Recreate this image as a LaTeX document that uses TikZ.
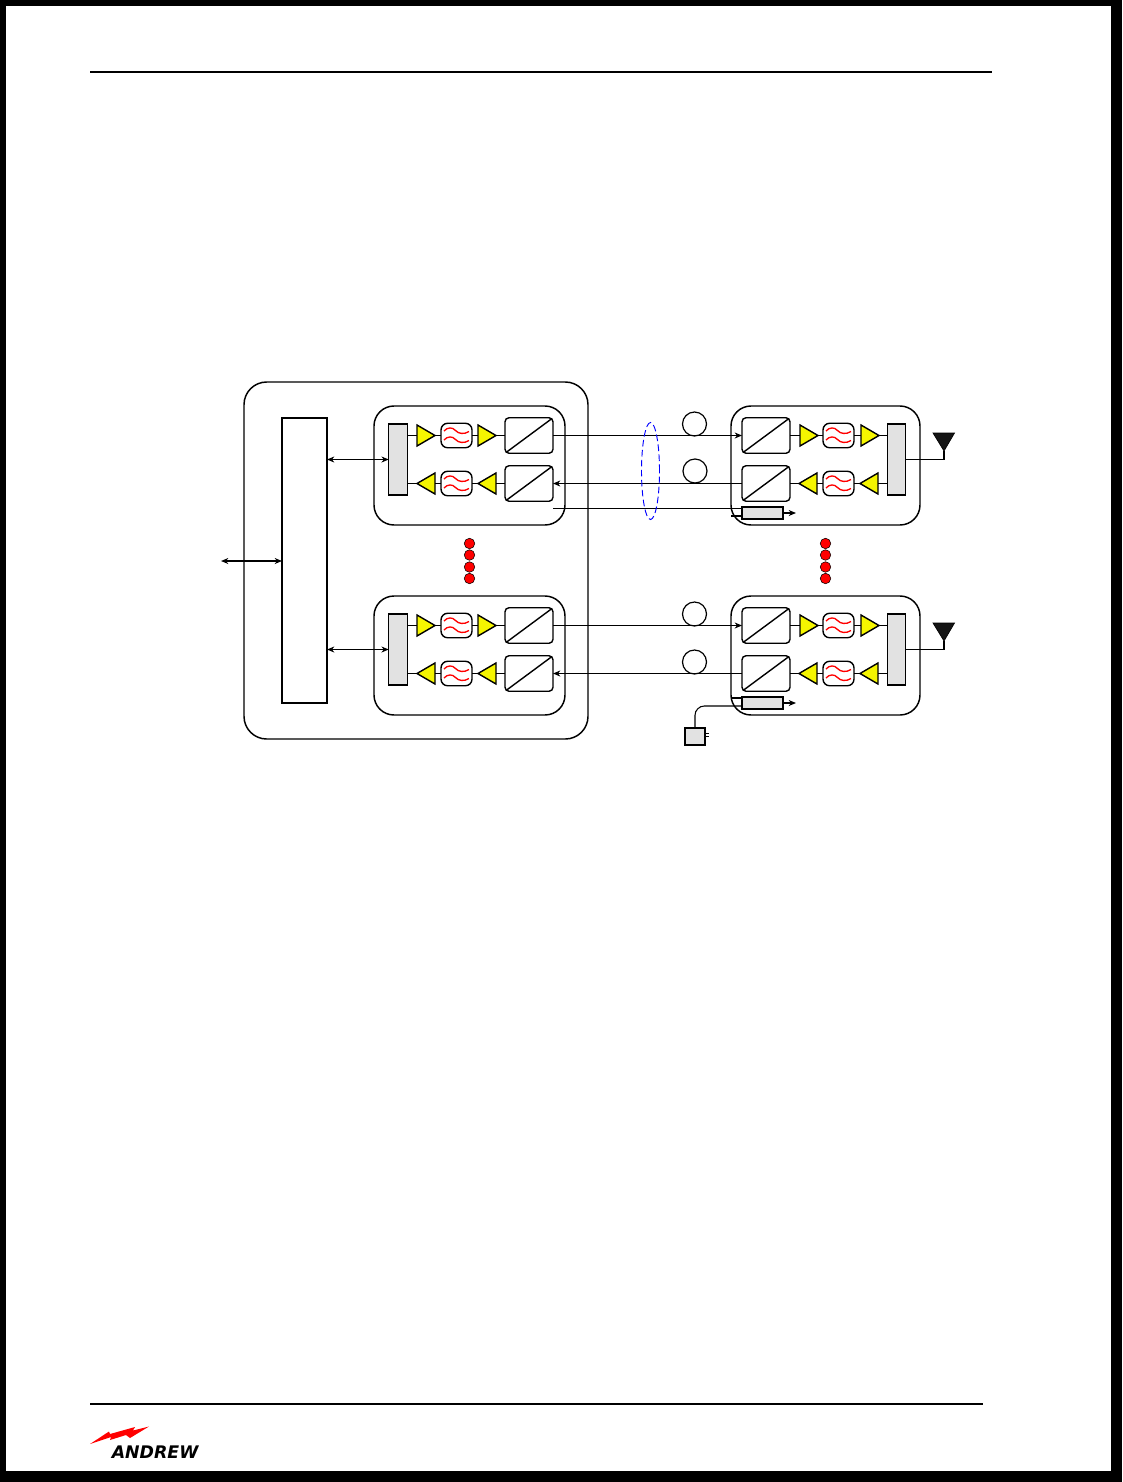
\documentclass[tikz,border=0pt]{standalone}
\usepackage{fontspec}
\setmainfont{Liberation Sans}
\newfontfamily\logofont{DejaVu Sans}
\usetikzlibrary{arrows.meta,shapes.geometric,calc}
\definecolor{ampy}{RGB}{245,245,0}
\definecolor{bargrey}{RGB}{226,226,226}
\tikzset{
 x=0.75pt,y=-0.75pt,
 sz/.style 2 args={minimum width=#1*0.75pt,minimum height=#2*0.75pt,inner sep=0pt,outer sep=0pt},
 wire/.style={line width=1.05pt,black},
 thin wire/.style={line width=0.8pt,black},
 hd/.style={-{Stealth[length=5.5pt,width=4.5pt]}},
 hdd/.style={{Stealth[length=5.5pt,width=4.5pt]}-{Stealth[length=5.5pt,width=4.5pt]}},
 module/.style={draw,line width=1.1pt,rounded corners=15pt,sz={#1}{119}},
 module/.default=191,
 bar/.style={draw,line width=1.05pt,fill=bargrey,sz={18.5}{71}},
 conv/.style={draw,line width=1.05pt,rounded corners=3pt,sz={48}{35.5},
   path picture={\draw[line width=1.05pt,sharp corners] (path picture bounding box.south west)--(path picture bounding box.north east);}},
 filt/.style={draw,line width=1.05pt,rounded corners=5pt,fill=white,sz={31}{24.5},
   path picture={\begin{scope}[shift={(path picture bounding box.center)},sharp corners]
     \draw[red,line width=1pt] (-12.5,-4.5) .. controls (-9,-8.5) and (-4,-8.5) .. (-1,-5) .. controls (2,-1.5) and (8,-1) .. (12.5,-4);
     \draw[red,line width=1pt] (-12.5,4.5) .. controls (-9,0.5) and (-4,0.5) .. (-1,4) .. controls (2,7.5) and (8,8) .. (12.5,5);
   \end{scope}}},
 ampr/.style={draw,line width=1.05pt,fill=ampy,isosceles triangle,isosceles triangle stretches,sz={21}{18},anchor=lower side},
 ampl/.style={ampr,shape border rotate=180},
 loopc/.style={draw,circle,line width=0.9pt,fill=white,sz={24}{24}},
 dot/.style={draw,circle,line width=0.4pt,fill=red,sz={10.5}{10.5}},
 coup/.style={draw,line width=1.05pt,fill=bargrey,sz={41}{12}},
}
% #1 prefix, #2 vertical offset
\newcommand{\LeftMod}[2]{
 \node[module] (#1m) at (469.5,{465.5+#2}) {};
 \node[bar] (#1b) at (398,{459.5+#2}) {};
 \node[ampr] (#1a1) at (417,{435.5+#2}) {};
 \node[filt] (#1f1) at (456.5,{435.5+#2}) {};
 \node[ampr] (#1a2) at (478,{435.5+#2}) {};
 \node[conv] (#1c1) at (529,{435.5+#2}) {};
 \node[ampl] (#1a3) at (435,{483.5+#2}) {};
 \node[filt] (#1f2) at (456.5,{483.5+#2}) {};
 \node[ampl] (#1a4) at (496,{483.5+#2}) {};
 \node[conv] (#1c2) at (529,{483.5+#2}) {};
 \draw[wire] (#1a1.lower side -| #1b.east) -- (#1a1.lower side);
 \draw[wire] (#1a1.apex) -- (#1f1.west);
 \draw[wire] (#1f1.east) -- (#1a2.lower side);
 \draw[wire] (#1a2.apex) -- (#1c1.west);
 \draw[wire] (#1c2.west) -- (#1a4.lower side);
 \draw[wire] (#1a4.apex) -- (#1f2.east);
 \draw[wire] (#1f2.west) -- (#1a3.lower side);
 \draw[wire] (#1a3.apex) -- ++(-9,0);
}
\newcommand{\RightMod}[2]{
 \node[module=189] (#1m) at (825.5,{465.5+#2}) {};
 \node[conv] (#1c1) at (766,{435.5+#2}) {};
 \node[ampr] (#1a1) at (800,{435.5+#2}) {};
 \node[filt] (#1f1) at (838.5,{435.5+#2}) {};
 \node[ampr] (#1a2) at (861,{435.5+#2}) {};
 \node[bar] (#1b) at (896.5,{459.5+#2}) {};
 \node[conv] (#1c2) at (766,{483.5+#2}) {};
 \node[ampl] (#1a3) at (817,{483.5+#2}) {};
 \node[filt] (#1f2) at (838.5,{483.5+#2}) {};
 \node[ampl] (#1a4) at (878,{483.5+#2}) {};
 \draw[wire] (#1c1.east) -- (#1a1.lower side);
 \draw[wire] (#1a1.apex) -- (#1f1.west);
 \draw[wire] (#1f1.east) -- (#1a2.lower side);
 \draw[wire] (#1a2.apex) -- (#1a2.apex -| #1b.west);
 \draw[wire] (#1a4.lower side -| #1b.west) -- (#1a4.lower side);
 \draw[wire] (#1a4.apex) -- (#1f2.east);
 \draw[wire] (#1f2.west) -- (#1a3.lower side);
 \draw[wire] (#1a3.apex) -- (#1c2.east);
 \node[coup] (#1k) at (762.5,{513+#2}) {};
 \draw[wire,hd] (#1k.east) -- ++(13,0);
 \coordinate (#1p) at (944,{459.5+#2});
 \draw[wire] (#1b.east) -- (#1p) -- ++(0,-9);
 \draw[fill=black!92,line width=0.5pt] (933,{433+#2}) -- (954.5,{433+#2}) -- (944,{451+#2}) -- cycle;
}
\begin{document}
\begin{tikzpicture}
\useasboundingbox (0,0) rectangle (1122,1482);
\fill[black] (0,0) rectangle (1122,1482);
\fill[white] (6,6) rectangle (1111,1471);
% rules
\coordinate (r1a) at (90,72); \coordinate (r1b) at (992,72);
\coordinate (r2a) at (90,1404); \coordinate (r2b) at (983,1404);
\draw[line width=2.1pt] (r1a) -- (r1b);
\draw[line width=2.1pt] (r2a) -- (r2b);
% shelf
\node[draw,line width=1.1pt,rounded corners=17pt,sz={344}{357}] (shelf) at (416,560.5) {};
\node[draw,line width=1.1pt,sz={45}{285}] (mux) at (304.5,560.5) {};
\LeftMod{t}{0}
\LeftMod{u}{190}
\RightMod{v}{0}
\RightMod{w}{190}
% bus arrows
\coordinate (bus) at (221,561);
\draw[wire,hdd] (bus) -- (bus -| mux.west);
\draw[thin wire,hdd] (mux.east |- tb.west) -- (tb.west);
\draw[wire,hdd] (mux.east |- ub.west) -- (ub.west);
% fibre loops
\node[loopc] (l1) at (694.5,424) {};
\node[loopc] (l2) at (695,471) {};
\node[loopc] (l3) at (694.5,614) {};
\node[loopc] (l4) at (694.5,662) {};
% long wires
\draw[thin wire,hd] (tc1.east) -- (vc1.west);
\draw[thin wire,hd] (vc2.west) -- (tc2.east);
\draw[wire,hd] (uc1.east) -- (wc1.west);
\draw[thin wire,hd] (wc2.west) -- (uc2.east);
% third fibre
\coordinate (t3) at (553,508.5);
\draw[thin wire] (t3) -- (t3 -| vk.west);
\coordinate (v3) at (731,516);
\draw[thin wire] (v3) -- (v3 -| vk.west);
\coordinate (w3) at (731,698);
\draw[thin wire] (w3) -- (w3 -| wk.west);
% power supply
\node[draw,line width=1.05pt,fill=bargrey,sz={20}{17}] (psu) at (695,736.5) {};
\coordinate (wkin) at (742,706);
\draw[thin wire,rounded corners=7pt] (psu.north) |- (wkin);
\coordinate (pr1) at (705,733.5);\coordinate (pr2) at (705,736.5);
\draw[line width=0.7pt] (pr1) -- ++(3.5,0);
\draw[line width=0.7pt] (pr2) -- ++(3.5,0);
% dashed ellipse
\node[draw=blue,dash pattern=on 5pt off 2.5pt,ellipse,line width=0.7pt,sz={18}{97}] (bundle) at (650.5,471) {};
% dots
\foreach \yy [count=\i] in {543.5,555,567,578.5}{
  \node[dot] (dl\i) at (469.5,\yy) {};
  \node[dot] (dr\i) at (825.5,\yy) {};
}
% logo
\fill[red] (90,1444) -- (109,1431.5) -- (110,1434) -- (135,1427) -- (133,1430.5) -- (149,1426.5) -- (130,1438) -- (126,1435) -- (110,1440) -- (111,1437) -- cycle;
\node[anchor=base west,inner sep=0pt,font=\logofont\bfseries\itshape\fontsize{13pt}{13pt}\selectfont] (logo) at (111.5,1458) {ANDREW};
\end{tikzpicture}
\end{document}
